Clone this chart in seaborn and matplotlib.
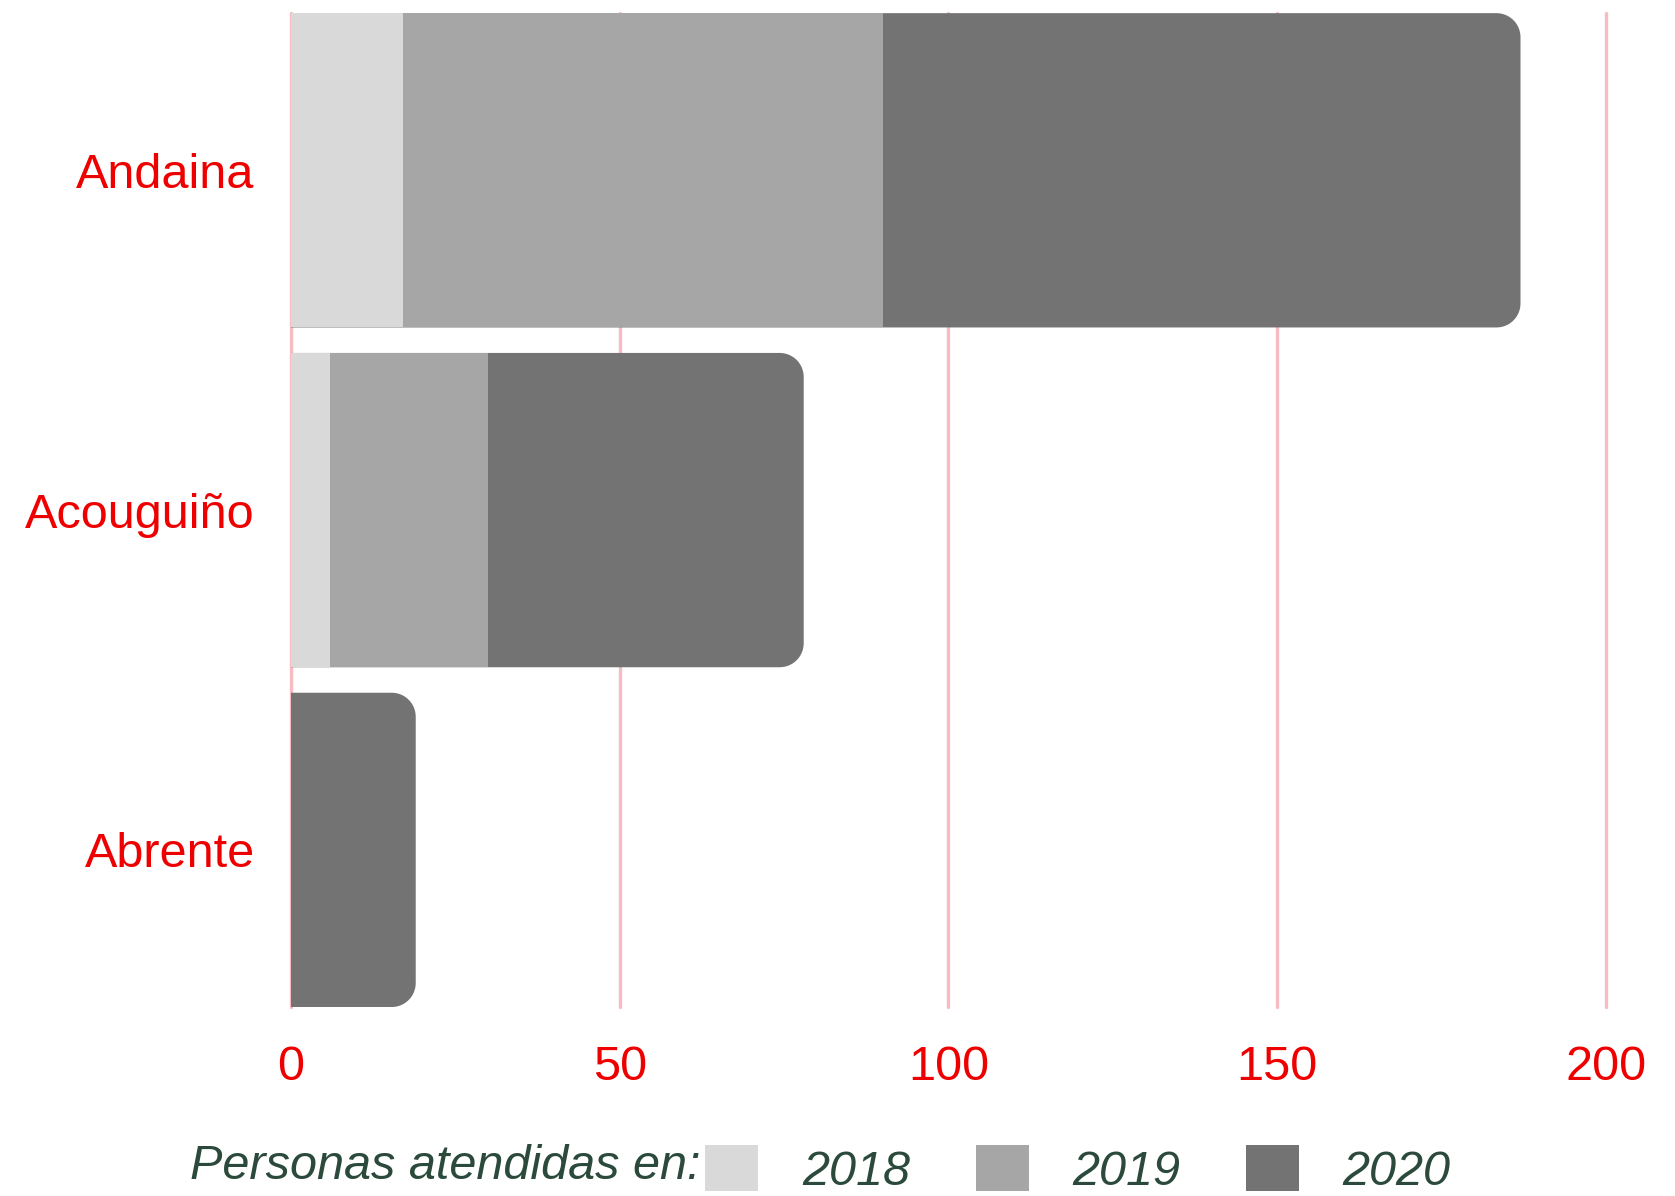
import matplotlib
matplotlib.use("Agg")
import matplotlib.pyplot as plt
import matplotlib.patches as mpatches
from matplotlib.path import Path
import numpy as np
import pandas as pd
import seaborn as sns

# datos
entidades = ["Andaina", "Acouguiño", "Abrente"]
anos = ["2018", "2019", "2020"]
v2018 = [17, 6, 0]
v2019 = [73, 24, 0]
v2020 = [97, 48, 19]
cores = ["#d9d9d9", "#a6a6a6", "#737373"]
xticks = [0, 50, 100, 150, 200]

df = pd.DataFrame({"entidade": entidades, "2018": v2018, "2019": v2019, "2020": v2020})
df["c2018"] = df["2018"]
df["c2019"] = df["2018"] + df["2019"]
df["c2020"] = df["c2019"] + df["2020"]

sns.set_style("white")
plt.rcParams["font.family"] = ["Liberation Sans", "DejaVu Sans"]

fig = plt.figure(figsize=(16.75, 11.96), dpi=100)
ax = fig.add_axes([0.1736, 0.158, 0.7852, 0.831])

alto = 0.925
# barras acumuladas, de maior a menor
sns.barplot(data=df, y="entidade", x="c2020", color=cores[2], width=alto,
            saturation=1, linewidth=0, orient="h", ax=ax)
n_total = len(ax.patches)

# extremo dereito redondeado (só o lado dereito)
r_px = 24
ax.set_xlim(0, 200)
ax.set_ylim(2 + alto / 2, -alto / 2)
ax_w = ax.get_position().width * fig.get_figwidth() * fig.dpi
ax_h = ax.get_position().height * fig.get_figheight() * fig.dpi
rx = r_px * 200 / ax_w
ry = r_px * (2 + alto) / ax_h
t = np.linspace(0, np.pi / 2, 16)
for p in list(ax.patches[:n_total]):
    x0, y0, w, h = p.get_x(), p.get_y(), p.get_width(), p.get_height()
    if w <= 0:
        continue
    x1, y1 = x0 + w, y0 + h
    cx = x1 - rx
    canto_a = np.column_stack([cx + rx * np.sin(t), y0 + ry - ry * np.cos(t)])
    canto_b = np.column_stack([cx + rx * np.cos(t), y1 - ry + ry * np.sin(t)])
    verts = np.vstack([[[x0, y0]], canto_a, canto_b, [[x0, y1]], [[x0, y0]]])
    p.set_visible(False)
    ax.add_patch(mpatches.PathPatch(Path(verts, closed=True), facecolor=cores[2],
                                    edgecolor="none", zorder=1))

sns.barplot(data=df, y="entidade", x="c2019", color=cores[1], width=alto,
            saturation=1, linewidth=0, orient="h", ax=ax)
sns.barplot(data=df, y="entidade", x="c2018", color=cores[0], width=alto,
            saturation=1, linewidth=0, orient="h", ax=ax)

ax.set_xlim(0, 200)
ax.set_ylim(2 + alto / 2, -alto / 2)
ax.set_xticks(xticks)
ax.set_xticklabels([str(v) for v in xticks])
ax.set_xlabel("")
ax.set_ylabel("")
ax.set_axisbelow(True)
ax.grid(axis="x", color="#f7bcc1", linewidth=2.4)
ax.grid(axis="y", visible=False)
for gl in ax.get_xgridlines():
    gl.set_clip_on(False)
sns.despine(ax=ax, left=True, bottom=True)
ax.tick_params(axis="both", length=0, labelsize=35, labelcolor="#ee0000")
ax.tick_params(axis="y", pad=26)
ax.tick_params(axis="x", pad=27)

# lenda
verde = "#2b4a3c"
fig.text(0.418, 0.025, "Personas atendidas en:", ha="right", va="center",
         fontsize=35, style="italic", color=verde)
handles = [mpatches.Patch(facecolor=c, edgecolor="none") for c in cores]
leg = fig.legend(handles, anos, loc="center left", bbox_to_anchor=(0.421, 0.022),
                 ncol=3, frameon=False, fontsize=35, handlelength=1.09,
                 handleheight=1.09, handletextpad=0.9, columnspacing=1.35,
                 borderpad=0, borderaxespad=0)
for txt in leg.get_texts():
    txt.set_color(verde)
    txt.set_style("italic")

fig.savefig("out.png", dpi=100)
